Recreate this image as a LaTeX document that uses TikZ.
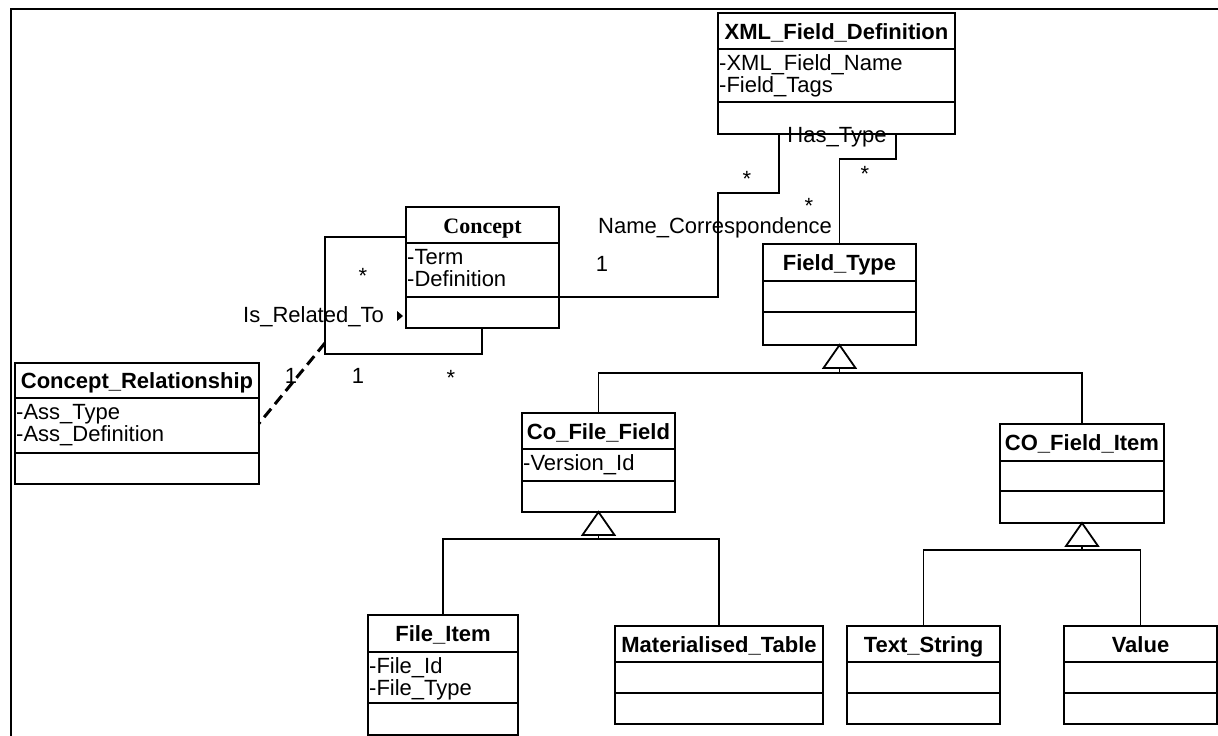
\documentclass[tikz,border=0pt]{standalone}
\usepackage{fontspec}
\setmainfont{Liberation Serif}
\setsansfont{Liberation Sans}
\usetikzlibrary{calc}

\tikzset{
  classbox/.style={draw, line width=1.8pt, inner sep=0pt, outer sep=0pt, anchor=north west},
  sepline/.style={line width=1.8pt},
  titletext/.style={font=\sffamily\bfseries\fontsize{22}{24}\selectfont, inner sep=0pt},
  attrtext/.style={font=\sffamily\fontsize{22}{24}\selectfont, inner sep=0pt},
  mult/.style={attrtext, anchor=base},
  assoc/.style={line width=1.3pt},
  genline/.style={line width=1.3pt},
  gentri/.style={line width=1.8pt, fill=white},
  dashlink/.style={line width=3pt, dash pattern=on 11pt off 6pt}
}

% name, x, y, width, title band, attribute band, operation band, title, attributes
\newcommand{\umlclass}[9]{%
  \pgfmathsetmacro\clsheight{#5+#6+#7}%
  \pgfmathsetmacro\clssplit{#5+#6}%
  \pgfmathsetmacro\clstitle{#5/2+8}%
  \node[classbox, minimum width=#4pt, minimum height=\clsheight pt] (#1) at (#2,#3) {};
  \draw[sepline] ([yshift=-#5pt]#1.north west) -- ([yshift=-#5pt]#1.north east);
  \draw[sepline] ([yshift=-\clssplit pt]#1.north west) -- ([yshift=-\clssplit pt]#1.north east);
  \node[titletext, anchor=base] at ([yshift=-\clstitle pt]#1.north) {#8};
  \def\clsattrs{#9}%
  \ifx\clsattrs\empty\else
    \foreach \attr [count=\k] in {#9} {
      \pgfmathsetmacro\attry{#5+21+22*(\k-1)}
      \node[attrtext, anchor=base west] at ([xshift=1pt, yshift=-\attry pt]#1.north west) {\attr};
    }
  \fi
}

\begin{document}
\begin{tikzpicture}[x=1pt,y=-1pt]
  \useasboundingbox (0,0) rectangle (1218,736);
  \draw[line width=2.6pt] (11,736) -- (11,9) -- (1218,9);

  \umlclass{xmldef}{718}{13}{237}{36}{53}{32}{XML\_Field\_Definition}{-XML\_Field\_Name,-Field\_Tags}
  \umlclass{concept}{406}{207}{153}{36}{54}{31}{\rmfamily Concept}{-Term,-Definition}
  \umlclass{conceptrel}{15}{363}{244}{35}{55}{31}{Concept\_Relationship}{-Ass\_Type,-Ass\_Definition}
  \umlclass{fieldtype}{763}{244}{153}{37}{31}{33}{Field\_Type}{}
  \umlclass{cofile}{522}{413}{153}{36}{32}{31}{Co\_File\_Field}{-Version\_Id}
  \umlclass{coitem}{1000}{424}{164}{37}{30}{32}{CO\_Field\_Item}{}
  \umlclass{fileitem}{368}{615}{150}{37}{51}{32}{File\_Item}{-File\_Id,-File\_Type}
  \umlclass{mattable}{615}{626}{208}{36}{31}{31}{Materialised\_Table}{}
  \umlclass{textstring}{847}{626}{153}{36}{31}{31}{Text\_String}{}
  \umlclass{valuecls}{1064}{626}{153}{36}{31}{31}{Value}{}

  % associations
  \coordinate (ncfrom) at ([yshift=-90pt]concept.north east);
  \coordinate (ncto) at ([xshift=61pt]xmldef.south west);
  \draw[assoc] (ncfrom) -| (718,193) -| (ncto);
  \coordinate (htfrom) at ([xshift=-59pt]xmldef.south east);
  \draw[assoc] (htfrom) -- ++(0,25) -| (fieldtype.north);
  \coordinate (irfrom) at ([yshift=-30pt]concept.north west);
  \coordinate (irto) at ([xshift=76pt]concept.south west);
  \draw[assoc] (irfrom) -| (325,354) -| (irto);
  \coordinate (irjoin) at (325,343);
  \draw[dashlink] (irjoin) -- (conceptrel.east);

  \node[attrtext, anchor=base west] (nclabel) at (598,233) {Name\_Correspondence};
  \node[attrtext, anchor=base] (htlabel) at (837,142) {Has\_Type};
  \node[attrtext, anchor=base east] (irlabel) at (384,322) {Is\_Related\_To};
  \fill (397,311) -- (403,316) -- (397,321) -- cycle;
  \node[mult] (ncmany) at (747,186) {*};
  \node[mult] (ncone) at (602,271) {1};
  \node[mult] (htmany) at (865,181) {*};
  \node[mult] (htmanyb) at (809,213) {*};
  \node[mult] (irmany) at (363,283) {*};
  \node[mult] (irmanyb) at (451,385) {*};
  \node[mult] (irone) at (358,383) {1};
  \node[mult] (crone) at (291,383) {1};

  % generalisations
  \draw[gentri] (fieldtype.south) -- ++(-16,23) -- ++(32,0) -- cycle;
  \draw[genline] (fieldtype.south) ++(0,23) -- ++(0,5) coordinate (ftbus);
  \draw[genline] (cofile.north) |- (ftbus) -| (coitem.north);
  \draw[gentri] (cofile.south) -- ++(-16,23) -- ++(32,0) -- cycle;
  \draw[genline] (cofile.south) ++(0,23) -- ++(0,4) coordinate (cfbus);
  \draw[genline] (fileitem.north) |- (cfbus) -| (mattable.north);
  \draw[gentri] (coitem.south) -- ++(-16,23) -- ++(32,0) -- cycle;
  \draw[genline] (coitem.south) ++(0,23) -- ++(0,4) coordinate (cibus);
  \draw[genline] (textstring.north) |- (cibus) -| (valuecls.north);
\end{tikzpicture}
\end{document}
